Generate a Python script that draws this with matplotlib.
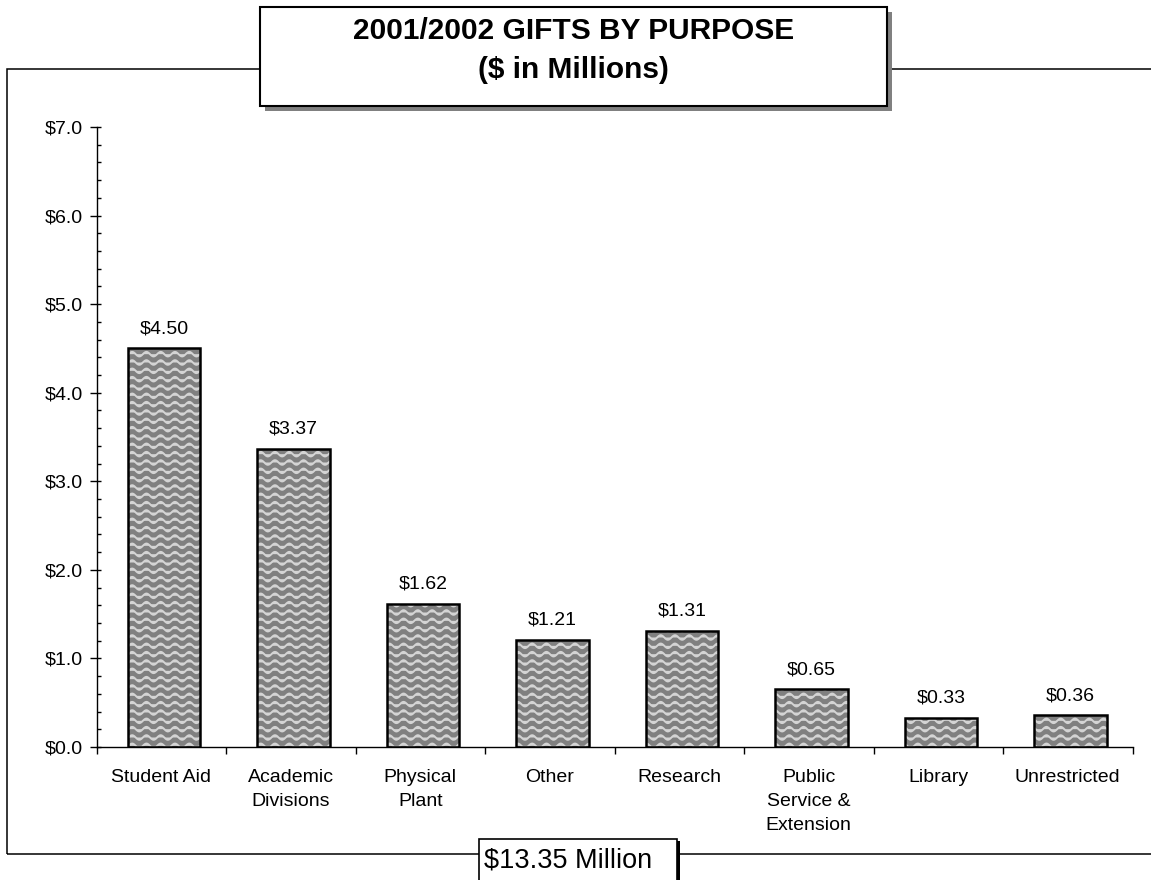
import numpy as np
import matplotlib
matplotlib.use("Agg")
import matplotlib.pyplot as plt
import matplotlib.hatch as mhatch
from matplotlib.path import Path
from matplotlib.patches import Rectangle
from matplotlib.ticker import MultipleLocator, FuncFormatter, FixedLocator

# ---------------- data ----------------
categories = ["Student Aid", "Academic\nDivisions", "Physical\nPlant", "Other",
              "Research", "Public\nService &\nExtension", "Library", "Unrestricted"]
values = [4.50, 3.37, 1.62, 1.21, 1.31, 0.65, 0.33, 0.36]
title_lines = ["2001/2002 GIFTS BY PURPOSE", "($ in Millions)"]
total_label = "$13.35 Million"
y_max = 7.0


# ---------------- custom wavy hatch (replaces '-') ----------------
class WaveHatch(mhatch.HatchPatternBase):
    ROWS = 12
    PERIODS = 7
    SAMPLES = 7 * 16 + 1

    def __init__(self, hatch, density):
        self.active = '-' in hatch
        self.num_vertices = self.ROWS * self.SAMPLES if self.active else 0

    def set_vertices_and_codes(self, vertices, codes):
        xs = np.linspace(0.0, 1.0, self.SAMPLES)
        k = 0
        for j in range(self.ROWS):
            y0 = (j + 0.5) / self.ROWS
            ys = y0 + 0.023 * np.sin(2 * np.pi * self.PERIODS * xs)
            vertices[k:k + self.SAMPLES, 0] = xs
            vertices[k:k + self.SAMPLES, 1] = ys
            codes[k] = Path.MOVETO
            codes[k + 1:k + self.SAMPLES] = Path.LINETO
            k += self.SAMPLES


mhatch._hatch_types = [WaveHatch if t is mhatch.HorizontalHatch else t
                       for t in mhatch._hatch_types]

plt.rcParams['font.family'] = ['Liberation Sans', 'DejaVu Sans']
plt.rcParams['hatch.linewidth'] = 1.4

W, H = 1151, 880
DPI = 100
fig = plt.figure(figsize=(W / DPI, H / DPI), dpi=DPI)
fig.patch.set_facecolor('white')


def fx(px):
    return px / W


def fy(py):
    return 1 - py / H


# ---------------- outer frame ----------------
fig.add_artist(Rectangle((fx(7), fy(854)), fx(1200 - 7), (854 - 69) / H,
                         transform=fig.transFigure, fill=False,
                         edgecolor='black', linewidth=1.1, zorder=1))

# ---------------- axes ----------------
ax = fig.add_axes([fx(96.5), fy(747), fx(1132.5 - 96.5), (747 - 127) / H])
ax.set_facecolor('none')
x = np.arange(1, len(categories) + 1)
bar_w = 0.56
ax.bar(x + 0.02, values, width=bar_w, color='#808080', edgecolor='#d4d4d4',
       linewidth=0, hatch='-', zorder=2)
ax.bar(x + 0.02, values, width=bar_w, fill=False, edgecolor='black',
       linewidth=1.8, zorder=3)

for xi, v in zip(x, values):
    ax.annotate(f"${v:.2f}", (xi + 0.02, v), xytext=(0, 8),
                textcoords='offset points', ha='center', va='bottom',
                fontsize=14)

ax.set_xlim(0.5, len(categories) + 0.5)
ax.set_ylim(0, y_max)
for s in ['top', 'right']:
    ax.spines[s].set_visible(False)
for s in ['left', 'bottom']:
    ax.spines[s].set_linewidth(1.0)

ax.yaxis.set_major_locator(MultipleLocator(1.0))
ax.yaxis.set_minor_locator(MultipleLocator(0.2))
ax.yaxis.remove_overlapping_locs = False
ax.yaxis.set_major_formatter(FuncFormatter(lambda v, p: f"${v:.1f}"))
ax.tick_params(axis='y', which='major', direction='out', length=5, width=1,
               labelsize=14, pad=5)
ax.tick_params(axis='y', which='minor', direction='in', length=3, width=1)

# x: category labels (no ticks) + boundary ticks (minor)
ax.xaxis.set_major_locator(FixedLocator(x))
ax.set_xticklabels(categories, fontsize=14, linespacing=1.52)
ax.xaxis.set_minor_locator(FixedLocator(np.arange(0.5, len(categories) + 1, 1.0)))
ax.tick_params(axis='x', which='major', length=0, pad=16)
ax.tick_params(axis='x', which='minor', direction='out', length=5, width=1)

# ---------------- title box ----------------
fig.add_artist(Rectangle((fx(265), fy(111)), fx(887 - 260), (106 - 7) / H,
                         transform=fig.transFigure, facecolor='#808080',
                         edgecolor='none', zorder=4))
fig.add_artist(Rectangle((fx(260), fy(106)), fx(887 - 260), (106 - 7) / H,
                         transform=fig.transFigure, facecolor='white',
                         edgecolor='black', linewidth=1.5, zorder=5))
fig.text(fx(573.5), fy(31), title_lines[0], ha='center', va='center',
         fontsize=21.5, fontweight='bold', zorder=6)
fig.text(fx(573.5), fy(70), title_lines[1], ha='center', va='center',
         fontsize=21.5, fontweight='bold', zorder=6)

# ---------------- total box ----------------
fig.add_artist(Rectangle((fx(482), fy(900)), fx(677 - 479), (900 - 841) / H,
                         transform=fig.transFigure, facecolor='black',
                         edgecolor='none', zorder=4))
fig.add_artist(Rectangle((fx(479), fy(900)), fx(677 - 479), (900 - 839) / H,
                         transform=fig.transFigure, facecolor='white',
                         edgecolor='black', linewidth=1.2, zorder=5))
fig.text(fx(484), fy(860), total_label, ha='left', va='center',
         fontsize=19.5, zorder=6)

fig.savefig('out.png', dpi=DPI)
